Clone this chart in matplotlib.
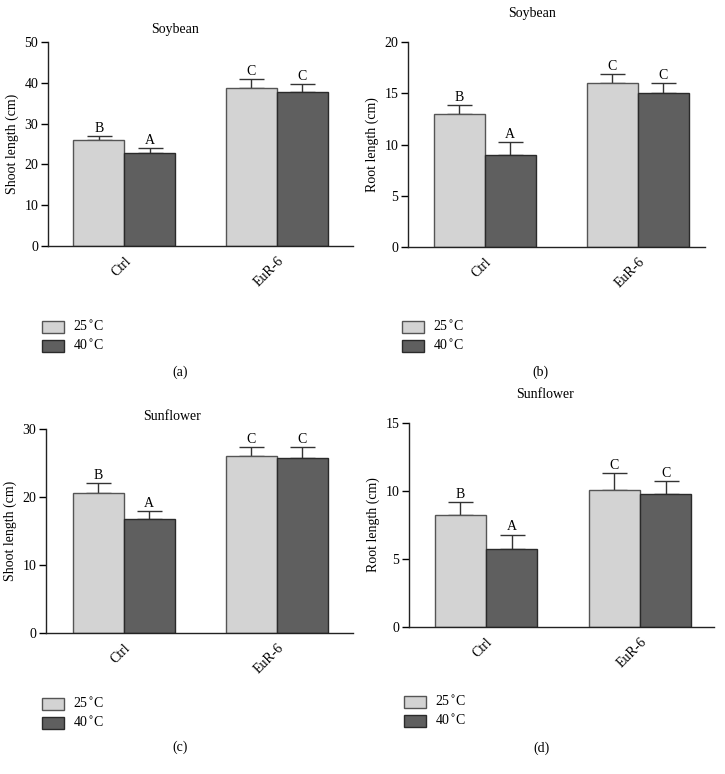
import matplotlib
matplotlib.use('Agg')
import matplotlib.pyplot as plt
import numpy as np

plt.rcParams['font.family'] = ['Liberation Serif', 'DejaVu Serif']

groups = ['Ctrl', 'EuR-6']
temps = ['25$^{\\circ}$C', '40$^{\\circ}$C']

# (a) soybean shoot length
soy_shoot_25 = [26.0, 38.7]
soy_shoot_40 = [22.7, 37.7]
soy_shoot_25_err = [1.0, 2.2]
soy_shoot_40_err = [1.2, 2.0]
soy_shoot_letters = [['B', 'C'], ['A', 'C']]

# (b) soybean root length
soy_root_25 = [13.0, 16.0]
soy_root_40 = [9.0, 15.0]
soy_root_25_err = [0.9, 0.9]
soy_root_40_err = [1.2, 1.0]
soy_root_letters = [['B', 'C'], ['A', 'C']]

# (c) sunflower shoot length
sun_shoot_25 = [20.6, 26.0]
sun_shoot_40 = [16.7, 25.7]
sun_shoot_25_err = [1.4, 1.4]
sun_shoot_40_err = [1.2, 1.6]
sun_shoot_letters = [['B', 'C'], ['A', 'C']]

# (d) sunflower root length
sun_root_25 = [8.2, 10.1]
sun_root_40 = [5.7, 9.8]
sun_root_25_err = [1.0, 1.2]
sun_root_40_err = [1.1, 0.9]
sun_root_letters = [['B', 'C'], ['A', 'C']]

light = '#d3d3d3'
dark = '#5f5f5f'
W, H = 725, 774
FS = 10


def px_axes(fig, x0, x1, ytop, ybot):
    return fig.add_axes([x0 / W, 1 - ybot / H, (x1 - x0) / W, (ybot - ytop) / H])


def panel(fig, box, v25, v40, e25, e40, letters, title, ylabel, ymax, step,
          xlim, title_y, leg_xy, tag_xy, tag):
    ax = px_axes(fig, *box)
    x = np.arange(len(groups))
    w = 1 / 3
    b1 = ax.bar(x - w / 2, v25, w, color=light, edgecolor='#555555', linewidth=1,
                label=temps[0], zorder=2)
    b2 = ax.bar(x + w / 2, v40, w, color=dark, edgecolor='#2a2a2a', linewidth=1,
                label=temps[1], zorder=2)
    for xs, vals, errs in [(x - w / 2, v25, e25), (x + w / 2, v40, e40)]:
        ax.errorbar(xs, vals, yerr=[np.zeros(len(vals)), errs], fmt='none',
                    ecolor='#333333', elinewidth=1, capsize=9, capthick=1, zorder=1)
    for i, (xs, vals, errs) in enumerate([(x - w / 2, v25, e25), (x + w / 2, v40, e40)]):
        for j in range(len(xs)):
            ax.text(xs[j], vals[j] + errs[j] + ymax * 0.005, letters[i][j],
                    ha='center', va='bottom', fontsize=FS)
    ax.set_xlim(*xlim)
    ax.set_ylim(0, ymax)
    ax.set_yticks(np.arange(0, ymax + 0.1, step))
    ax.set_xticks(x)
    ax.set_xticklabels(groups, rotation=45, ha='right', rotation_mode='anchor',
                       fontsize=FS)
    ax.tick_params(axis='x', length=0, pad=6)
    ax.tick_params(axis='y', direction='out', length=5, width=1, labelsize=FS, pad=2)
    for s in ['top', 'right']:
        ax.spines[s].set_visible(False)
    for s in ['left', 'bottom']:
        ax.spines[s].set_linewidth(1)
        ax.spines[s].set_color('#222222')
    ax.set_ylabel(ylabel, fontsize=FS, labelpad=4)
    fig.text(title_y[0] / W, 1 - title_y[1] / H, title, ha='center', va='center',
             fontsize=FS)
    ax.legend(handles=[b1, b2], loc='upper left',
              bbox_to_anchor=(leg_xy[0] / W, 1 - leg_xy[1] / H),
              bbox_transform=fig.transFigure, frameon=False, fontsize=FS,
              handlelength=1.6, handleheight=0.95, labelspacing=0.32,
              handletextpad=0.65, borderpad=0, borderaxespad=0)
    fig.text(tag_xy[0] / W, 1 - tag_xy[1] / H, tag, ha='center', va='center',
             fontsize=FS)
    return ax


fig = plt.figure(figsize=(W / 100, H / 100), dpi=100)

panel(fig, (48, 353, 42, 246), soy_shoot_25, soy_shoot_40, soy_shoot_25_err,
      soy_shoot_40_err, soy_shoot_letters, 'Soybean', 'Shoot length (cm)', 50, 10,
      (-0.5, 1.5), (175, 29), (42, 320), (180, 372), '(a)')
panel(fig, (408, 705, 42, 247), soy_root_25, soy_root_40, soy_root_25_err,
      soy_root_40_err, soy_root_letters, 'Soybean', 'Root length (cm)', 20, 5,
      (-0.5, 1.44), (532, 14), (402, 320), (540, 372), '(b)')
panel(fig, (46, 353, 429, 633), sun_shoot_25, sun_shoot_40, sun_shoot_25_err,
      sun_shoot_40_err, sun_shoot_letters, 'Sunflower', 'Shoot length (cm)', 30, 10,
      (-0.51, 1.5), (172, 416), (42, 697), (180, 747), '(c)')
panel(fig, (409, 714, 423, 627), sun_root_25, sun_root_40, sun_root_25_err,
      sun_root_40_err, sun_root_letters, 'Sunflower', 'Root length (cm)', 15, 5,
      (-0.5, 1.48), (545, 395), (404, 695), (542, 748), '(d)')

fig.savefig('out.png', dpi=100)
